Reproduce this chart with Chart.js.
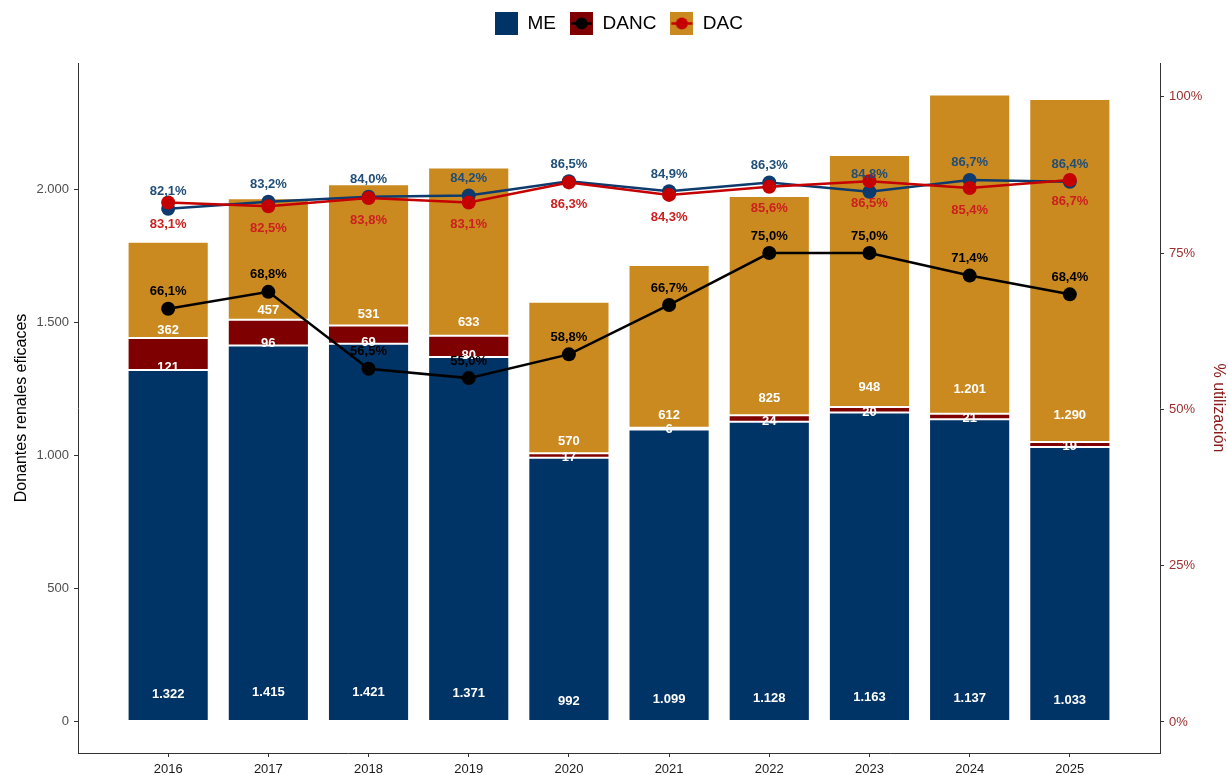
<!DOCTYPE html>
<html lang="es">
<head>
<meta charset="utf-8">
<title>Donantes renales eficaces</title>
<script src="https://cdn.jsdelivr.net/npm/chart.js@4.4.1/dist/chart.umd.min.js"></script>
<style>
    html, body { margin: 0; padding: 0; background: #ffffff; }
    #contenedor { width: 1228px; height: 775px; }
</style>
</head>
<body>
<div id="contenedor"><canvas id="myChart" width="1228" height="775"></canvas></div>
<script>
// datos
const anios = ["2016", "2017", "2018", "2019", "2020", "2021", "2022", "2023", "2024", "2025"];
const donantesME = [1322, 1415, 1421, 1371, 992, 1099, 1128, 1163, 1137, 1033];
const donantesDANC = [121, 96, 69, 80, 17, 6, 24, 20, 21, 19];
const donantesDAC = [362, 457, 531, 633, 570, 612, 825, 948, 1201, 1290];
const utilizacionME = [82.1, 83.2, 84.0, 84.2, 86.5, 84.9, 86.3, 84.8, 86.7, 86.4];
const utilizacionDANC = [66.1, 68.8, 56.5, 55.0, 58.8, 66.7, 75.0, 75.0, 71.4, 68.4];
const utilizacionDAC = [83.1, 82.5, 83.8, 83.1, 86.3, 84.3, 85.6, 86.5, 85.4, 86.7];
const ticksDonantes = [0, 500, 1000, 1500, 2000];
const ticksUtilizacion = [0, 25, 50, 75, 100];

// colores
const azulME = "#003366";
const rojoDANC = "#7f0000";
const doradoDAC = "#ca8a1f";
const lineaAzul = "#0d3b6e";
const lineaRoja = "#c40000";
const fuenteEtiquetas = "'Liberation Sans Narrow', 'Arial Narrow', 'Liberation Sans', Arial, sans-serif";
const fuenteEjes = "'Liberation Sans', Arial, sans-serif";

// formatea 2000 -> 2.000
function formatearMiles(valor) {
    return String(valor).replace(/\B(?=(\d{3})+(?!\d))/g, ".");
}

function formatearPorcentaje(valor) {
    return valor.toFixed(1).replace(".", ",") + "%";
}

// icono de la leyenda: cuadrado de color con linea y punto opcional
function crearIconoLeyenda(fondo, colorLinea) {
    const icono = document.createElement("canvas");
    icono.width = 23;
    icono.height = 23;
    const ctx = icono.getContext("2d");
    ctx.fillStyle = fondo;
    ctx.fillRect(0, 0, 23, 23);
    if (colorLinea) {
        ctx.strokeStyle = colorLinea;
        ctx.lineWidth = 2.5;
        ctx.beginPath();
        ctx.moveTo(1, 11.5);
        ctx.lineTo(22, 11.5);
        ctx.stroke();
        ctx.fillStyle = colorLinea;
        ctx.beginPath();
        ctx.arc(11.5, 11.5, 6, 0, Math.PI * 2);
        ctx.fill();
    }
    return icono;
}

const iconosLeyenda = [
    { text: "ME", icono: crearIconoLeyenda(azulME, null) },
    { text: "DANC", icono: crearIconoLeyenda(rojoDANC, "#000000") },
    { text: "DAC", icono: crearIconoLeyenda(doradoDAC, lineaRoja) }
];

// agranda el espacio debajo de la leyenda y la centra sobre el area del grafico
const pluginEspacioLeyenda = {
    id: "espacioLeyenda",
    beforeInit(chart) {
        const fitOriginal = chart.legend.fit;
        chart.legend.fit = function () {
            fitOriginal.bind(chart.legend)();
            this.height += 20;
        };
    },
    afterLayout(chart) {
        const area = chart.chartArea;
        const desplazamiento = (area.left + area.right) / 2 - chart.width / 2;
        chart.legend.left += desplazamiento;
        chart.legend.right += desplazamiento;
    }
};

// plugin que escribe las etiquetas de barras y porcentajes
const pluginEtiquetas = {
    id: "etiquetas",
    afterDatasetsDraw(chart) {
        const ctx = chart.ctx;
        const escalaX = chart.scales.x;
        const escalaY = chart.scales.y;
        const escalaY2 = chart.scales.y2;
        ctx.save();
        ctx.textAlign = "center";
        ctx.textBaseline = "middle";

        // etiquetas blancas dentro de las barras
        ctx.font = "bold 13px " + fuenteEtiquetas;
        ctx.fillStyle = "#ffffff";
        anios.forEach((anio, i) => {
            const x = escalaX.getPixelForValue(i);
            const segmentos = [donantesME[i], donantesDANC[i], donantesDAC[i]];
            let base = 0;
            segmentos.forEach((valor) => {
                const y = escalaY.getPixelForValue(base + valor * 0.077);
                ctx.fillText(formatearMiles(valor), x, y);
                base += valor;
            });
        });

        // etiquetas de porcentaje
        const series = [
            { datos: utilizacionME, color: "#1f4e79", desplazamiento: -17 },
            { datos: utilizacionDANC, color: "#000000", desplazamiento: -17 },
            { datos: utilizacionDAC, color: "#cc1f1f", desplazamiento: 22 }
        ];
        series.forEach((serie) => {
            ctx.fillStyle = serie.color;
            serie.datos.forEach((valor, i) => {
                const x = escalaX.getPixelForValue(i);
                const y = escalaY2.getPixelForValue(valor) + serie.desplazamiento;
                ctx.fillText(formatearPorcentaje(valor), x, y);
            });
        });
        ctx.restore();
    }
};

function puntos(valores) {
    return valores.map((valor, i) => ({ x: i, y: valor }));
}

function datasetBarra(etiqueta, valores, color) {
    return {
        type: "bar",
        label: etiqueta,
        data: puntos(valores),
        backgroundColor: color,
        borderColor: "rgba(255,255,255,0.85)",
        borderWidth: 1,
        borderSkipped: false,
        barPercentage: 0.81,
        categoryPercentage: 1,
        stack: "donantes",
        yAxisID: "y",
        order: 5
    };
}

function datasetLinea(etiqueta, valores, color, orden) {
    return {
        type: "line",
        label: etiqueta,
        data: puntos(valores),
        borderColor: color,
        backgroundColor: color,
        borderWidth: 2.5,
        pointRadius: 7,
        pointHoverRadius: 7,
        pointBorderWidth: 0,
        tension: 0,
        yAxisID: "y2",
        order: orden
    };
}

function cargarGrafico() {
    const data = {
        datasets: [
            datasetBarra("ME", donantesME, azulME),
            datasetBarra("DANC", donantesDANC, rojoDANC),
            datasetBarra("DAC", donantesDAC, doradoDAC),
            datasetLinea("% ME", utilizacionME, lineaAzul, 3),
            datasetLinea("% DANC", utilizacionDANC, "#000000", 2),
            datasetLinea("% DAC", utilizacionDAC, lineaRoja, 1)
        ]
    };

    const config = {
        data,
        options: {
            responsive: false,
            animation: false,
            layout: { padding: { top: 0, left: 0, right: 0, bottom: 0 } },
            plugins: {
                tooltip: { enabled: false },
                legend: {
                    position: "top",
                    align: "center",
                    labels: {
                        usePointStyle: true,
                        pointStyleWidth: 23,
                        boxHeight: 19,
                        padding: 14,
                        color: "#000000",
                        font: { family: fuenteEjes, size: 19 },
                        generateLabels: () => iconosLeyenda.map((item, i) => ({
                            text: item.text,
                            pointStyle: item.icono,
                            fillStyle: "#000000",
                            strokeStyle: "#000000",
                            lineWidth: 0,
                            hidden: false,
                            datasetIndex: i
                        }))
                    }
                }
            },
            scales: {
                x: {
                    type: "linear",
                    min: -0.9,
                    max: 9.9,
                    offset: false,
                    afterBuildTicks: (escala) => {
                        escala.ticks = anios.map((anio, i) => ({ value: i }));
                    },
                    afterFit: (escala) => { escala.height = 22; },
                    ticks: {
                        autoSkip: false,
                        maxRotation: 0,
                        padding: 5,
                        color: "#1a1a1a",
                        font: { family: fuenteEjes, size: 13 },
                        callback: (valor) => anios[valor]
                    },
                    grid: { display: true, offset: false, drawOnChartArea: false, drawTicks: true, tickLength: 4, color: "#333333" },
                    border: { display: true, color: "#333333", width: 1 }
                },
                y: {
                    type: "linear",
                    position: "left",
                    stacked: true,
                    min: -118,
                    max: 2477,
                    afterBuildTicks: (escala) => {
                        escala.ticks = ticksDonantes.map((valor) => ({ value: valor }));
                    },
                    afterFit: (escala) => { escala.width = 78; },
                    ticks: {
                        padding: 5,
                        color: "#4d4d4d",
                        font: { family: fuenteEjes, size: 13 },
                        callback: (valor) => formatearMiles(valor)
                    },
                    title: {
                        display: true,
                        text: "Donantes renales eficaces",
                        color: "#000000",
                        padding: { top: 12, bottom: 0 },
                        font: { family: fuenteEjes, size: 16 }
                    },
                    grid: { display: true, drawOnChartArea: false, drawTicks: true, tickLength: 4, color: "#333333" },
                    border: { display: true, color: "#333333", width: 1 }
                },
                y2: {
                    type: "linear",
                    position: "right",
                    min: -4.96,
                    max: 105.4,
                    afterBuildTicks: (escala) => {
                        escala.ticks = ticksUtilizacion.map((valor) => ({ value: valor }));
                    },
                    afterFit: (escala) => { escala.width = 68; },
                    ticks: {
                        padding: 5,
                        color: "#9b2f2f",
                        font: { family: fuenteEjes, size: 13 },
                        callback: (valor) => valor + "%"
                    },
                    title: {
                        display: true,
                        text: "% utilización",
                        color: "#8b1a1a",
                        padding: { top: 0, bottom: 0 },
                        font: { family: fuenteEjes, size: 16 }
                    },
                    grid: { display: true, drawOnChartArea: false, drawTicks: true, tickLength: 4, color: "#333333" },
                    border: { display: true, color: "#333333", width: 1 }
                }
            }
        },
        plugins: [pluginEspacioLeyenda, pluginEtiquetas]
    };

    const canvas = document.getElementById("myChart");
    new Chart(canvas, config);
}

cargarGrafico();
</script>
</body>
</html>
